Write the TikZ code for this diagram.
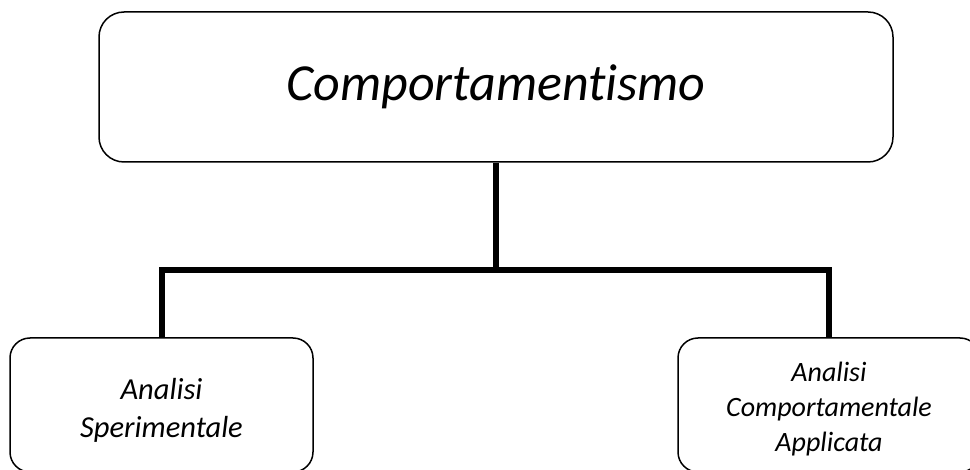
\documentclass[tikz,border=0pt]{standalone}
\usepackage{fontspec}
\setmainfont{Carlito}[Ligatures=CommonOff]
\usetikzlibrary{calc}

\begin{document}
\begin{tikzpicture}[x=1pt, y=1pt,
    box/.style={draw, line width=1.5pt, rounded corners=20pt, inner sep=0pt},
    boxtext/.style={align=center, inner sep=0pt, font=\fontsize{28}{35}\selectfont\itshape},
    branch/.style={line width=6pt, line join=miter}]
    \useasboundingbox (0,0) rectangle (970,-470);
    \clip (0,0) rectangle (970,-470);

    % draw boxes
    \node[box, rounded corners=25pt, minimum width=794pt, minimum height=150pt,
      font=\fontsize{52}{62}\selectfont\itshape] (comp) at (496,-87) {\raisebox{-5pt}{Comportamentismo}};
    \node[box, minimum width=303pt, minimum height=134pt] (sper) at (161.5,-405) {};
    \node[box, minimum width=302pt, minimum height=134pt] (appl) at (829,-405) {};

    % draw texts
    \node[boxtext, font=\fontsize{30.5}{38}\selectfont\itshape] (sper text) at ([yshift=-5pt]sper.center) {Analisi\\Sperimentale};
    \node[boxtext] (appl text) at ([yshift=-4pt]appl.center) {Analisi\\Comportamentale\\Applicata};

    % draw branches
    \coordinate (bar) at (496,-270);
    \draw[branch] (comp.south) -- (bar);
    \draw[branch] (sper.north) -- (sper.north |- bar) -- (appl.north |- bar) -- (appl.north);
\end{tikzpicture}
\end{document}
